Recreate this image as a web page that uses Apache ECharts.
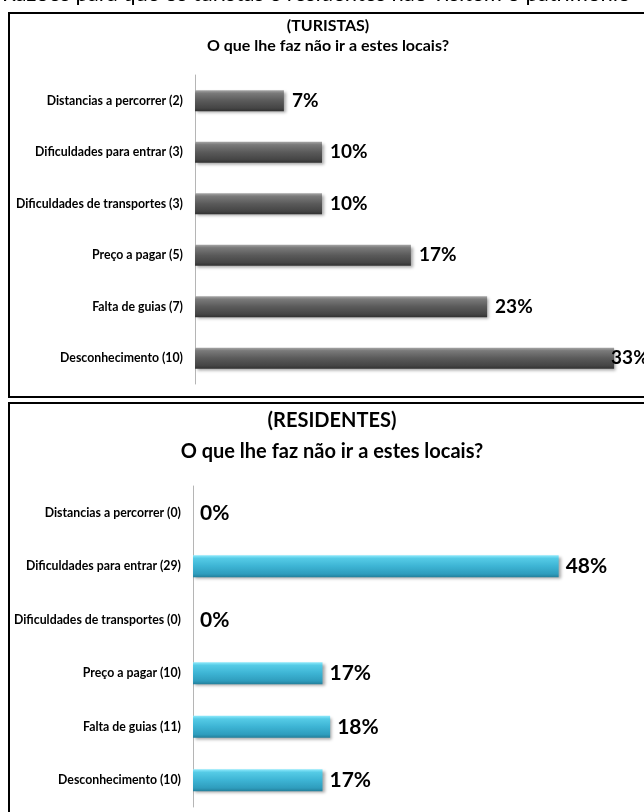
<!DOCTYPE html>
<html>
<head>
<meta charset="utf-8">
<script src="https://cdn.jsdelivr.net/npm/echarts@6/dist/echarts.min.js"></script>
<style>
html,body{margin:0;padding:0;background:#fff;}
#main{width:644px;height:812px;}
</style>
</head>
<body>
<div id="main"></div>
<script>
// ---- data ----
var pageTitle = 'Razões para que os turistas e residentes não visitem o património';
var turistasTitle = '(TURISTAS)';
var residentesTitle = '(RESIDENTES)';
var question = 'O que lhe faz não ir a estes locais?';

var turistasCats = ['Distancias a percorrer (2)', 'Dificuldades para entrar (3)', 'Dificuldades de transportes (3)', 'Preço a pagar (5)', 'Falta de guias (7)', 'Desconhecimento (10)'];
var turistasVals = [7, 10, 10, 17, 23, 33];

var residentesCats = ['Distancias a percorrer (0)', 'Dificuldades para entrar (29)', 'Dificuldades de transportes (0)', 'Preço a pagar (10)', 'Falta de guias (11)', 'Desconhecimento (10)'];
var residentesVals = [0, 48, 0, 17, 18, 17];

// ---- chart ----
var FONT = 'Lato, "Noto Sans", sans-serif';
var chart = echarts.init(document.getElementById('main'), null, {renderer: 'canvas'});

var grayGrad = new echarts.graphic.LinearGradient(0, 0, 0, 1, [
  {offset: 0, color: '#a6a6a6'},
  {offset: 0.14, color: '#7a7a7a'},
  {offset: 0.5, color: '#5a5a5a'},
  {offset: 0.85, color: '#454545'},
  {offset: 1, color: '#313131'}
]);
var cyanGrad = new echarts.graphic.LinearGradient(0, 0, 0, 1, [
  {offset: 0, color: '#8feafc'},
  {offset: 0.14, color: '#55cbe6'},
  {offset: 0.5, color: '#3db4d4'},
  {offset: 0.85, color: '#2f9dbd'},
  {offset: 1, color: '#237f9b'}
]);

var tMax = Math.max.apply(null, turistasVals);
var turistasData = turistasVals.map(function (v) {
  return v === tMax ? {value: v, label: {distance: -3}} : v;
});

var catLabel = {
  fontFamily: FONT, fontWeight: 'bold', fontSize: 12.3, color: '#000', margin: 12
};

var option = {
  animation: false,
  backgroundColor: '#fff',
  textStyle: {fontFamily: FONT},
  grid: [
    {left: 195, top: 75, width: 444.5, height: 309, containLabel: false},
    {left: 193, top: 486, width: 419, height: 321, containLabel: false}
  ],
  xAxis: [
    {gridIndex: 0, type: 'value', min: 0, max: 35, show: false},
    {gridIndex: 1, type: 'value', min: 0, max: 55, show: false}
  ],
  yAxis: [
    {gridIndex: 0, type: 'category', data: turistasCats, inverse: true,
     axisLine: {show: true, lineStyle: {color: '#b5b5b5', width: 1}},
     axisTick: {show: false}, splitLine: {show: false}, axisLabel: catLabel},
    {gridIndex: 1, type: 'category', data: residentesCats, inverse: true,
     axisLine: {show: true, lineStyle: {color: '#b5b5b5', width: 1}},
     axisTick: {show: false}, splitLine: {show: false}, axisLabel: catLabel}
  ],
  series: [
    {type: 'bar', xAxisIndex: 0, yAxisIndex: 0, data: turistasData, barWidth: 21,
     itemStyle: {color: grayGrad, shadowColor: 'rgba(0,0,0,0.35)', shadowBlur: 3, shadowOffsetX: 2, shadowOffsetY: 2},
     label: {show: true, position: 'right', distance: 8, formatter: '{c}%',
             fontFamily: FONT, fontWeight: 'bold', fontSize: 19, color: '#000'}},
    {type: 'bar', xAxisIndex: 1, yAxisIndex: 1, data: residentesVals, barWidth: 22,
     itemStyle: {color: cyanGrad, shadowColor: 'rgba(0,0,0,0.35)', shadowBlur: 3, shadowOffsetX: 2, shadowOffsetY: 2},
     label: {show: true, position: 'right', distance: 7, formatter: '{c}%',
             fontFamily: FONT, fontWeight: 'bold', fontSize: 21, color: '#000'}}
  ],
  graphic: [
    {type: 'text', left: 2, top: -17, z: 10,
     style: {text: pageTitle, fontFamily: FONT, fontSize: 22, fill: '#000'}},
    {type: 'rect', z: 5, shape: {x: 9, y: 13, width: 700, height: 384},
     style: {fill: 'none', stroke: '#000', lineWidth: 2}},
    {type: 'rect', z: 5, shape: {x: 9, y: 403, width: 700, height: 430},
     style: {fill: 'none', stroke: '#000', lineWidth: 2}},
    {type: 'text', x: 328, y: 26, z: 10,
     style: {text: turistasTitle, fontFamily: FONT, fontWeight: 'bold', fontSize: 16, fill: '#000', align: 'center', verticalAlign: 'middle'}},
    {type: 'text', x: 328, y: 46, z: 10,
     style: {text: question, fontFamily: FONT, fontWeight: 'bold', fontSize: 16, fill: '#000', align: 'center', verticalAlign: 'middle'}},
    {type: 'text', x: 332, y: 421, z: 10,
     style: {text: residentesTitle, fontFamily: FONT, fontWeight: 'bold', fontSize: 20, fill: '#000', align: 'center', verticalAlign: 'middle'}},
    {type: 'text', x: 332, y: 452, z: 10,
     style: {text: question, fontFamily: FONT, fontWeight: 'bold', fontSize: 20, fill: '#000', align: 'center', verticalAlign: 'middle'}}
  ]
};
chart.setOption(option);
</script>
</body>
</html>
